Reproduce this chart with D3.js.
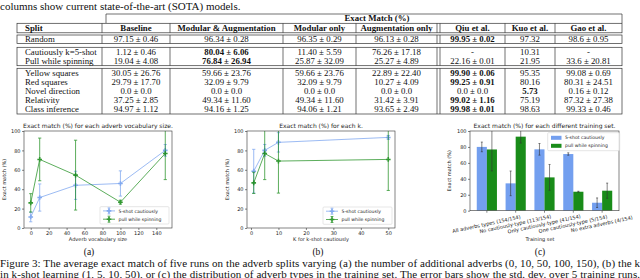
<!DOCTYPE html>
<html lang="en">
<head>
<meta charset="UTF-8">
<title>Adverb splits: table and exact match charts</title>
<script src="https://d3js.org/d3.v7.min.js"></script>
<style>
    body { margin: 0; padding: 0; background: #fff; }
    svg { display: block; }
    .serif { font-family: 'Liberation Serif', 'Times New Roman', serif; fill: #111; }
    .sans { font-family: 'DejaVu Sans', sans-serif; fill: #222; }
    .rule { stroke: #333; stroke-width: 0.7; fill: none; }
</style>
</head>
<body>
<div id="fig"></div>
<script>
// ---- table data ----
const splits = ["Random", "Cautiously k=5-shot", "Pull while spinning", "Yellow squares",
    "Red squares", "Novel direction", "Relativity", "Class inference"];
const columns = ["Baseline", "Modular & Augmentation", "Modular only", "Augmentation only",
    "Qiu et al.", "Kuo et al.", "Gao et al."];
const baseline = ["97.15 ± 0.46", "1.12 ± 0.46", "19.04 ± 4.08", "30.05 ± 26.76",
    "29.79 ± 17.70", "0.0 ± 0.0", "37.25 ± 2.85", "94.97 ± 1.12"];
const modAug = ["96.34 ± 0.28", "80.04 ± 6.06", "76.84 ± 26.94", "59.66 ± 23.76",
    "32.09 ± 9.79", "0.0 ± 0.0", "49.34 ± 11.60", "94.16 ± 1.25"];
const modOnly = ["96.35 ± 0.29", "11.40 ± 5.59", "25.87 ± 32.09", "59.66 ± 23.76",
    "32.09 ± 9.79", "0.0 ± 0.0", "49.34 ± 11.60", "94.06 ± 1.21"];
const augOnly = ["96.13 ± 0.28", "76.26 ± 17.18", "25.27 ± 4.89", "22.89 ± 22.40",
    "10.27 ± 4.09", "0.0 ± 0.0", "31.42 ± 3.91", "93.65 ± 2.49"];
const qiu = ["99.95 ± 0.02", "-", "22.16 ± 0.01", "99.90 ± 0.06",
    "99.25 ± 0.91", "0.0 ± 0.0", "99.02 ± 1.16", "99.98 ± 0.01"];
const kuo = ["97.32", "10.31", "21.95", "95.35", "80.16", "5.73", "75.19", "98.63"];
const gao = ["98.6 ± 0.95", "-", "33.6 ± 20.81", "99.08 ± 0.69",
    "80.31 ± 24.51", "0.16 ± 0.12", "87.32 ± 27.38", "99.33 ± 0.46"];
// bold cells as [row, column]
const boldCells = [[1, 1], [2, 1], [0, 4], [3, 4], [4, 4], [6, 4], [7, 4], [5, 5]];

// ---- chart data ----
const seriesNames = ["5-shot cautiously", "pull while spinning"];
const vocabSizes = [0, 10, 50, 100, 150];
const vocabCautious = [11.4, 31.4, 44.0, 45.9, 80.04];
const vocabCautiousSd = [5, 14, 14.5, 13, 6.06];
const vocabPull = [25.9, 70.7, 54.5, 26.6, 76.84];
const vocabPullSd = [9.5, 22, 36, 2, 26.94];

const kValues = [1, 5, 10, 50];
const kCautious = [58.6, 80.04, 88.3, 93.4];
const kCautiousSd = [22.5, 6.06, 10, 2];
const kPull = [46.5, 76.84, 69.0, 70.7];
const kPullSd = [11, 26.94, 33, 32];

const trainingSets = ["All adverbs types (154/154)", "No cautiously-type (113/154)",
    "Only cautiously-type (41/154)", "One cautiously-type (5/154)", "No extra adverbs (4/154)"];
const setCautious = [80.04, 34.3, 77.0, 71.1, 10.0];
const setCautiousSd = [6.06, 15.5, 7.3, 1.5, 6];
const setPull = [76.84, 92.9, 41.8, 23.8, 25.1];
const setPullSd = [26.94, 8, 16.2, 0.6, 9.5];

const yTicks = [0, 20, 40, 60, 80, 100];

const W = 640, H = 278;
const blue = "#6495ed", green = "#008000";

const svg = d3.select("#fig").append("svg").attr("width", W).attr("height", H);

// ---- text above the table ----
svg.append("text").attr("class", "serif")
    .attr("x", 0).attr("y", 10).style("font-size", "11px")
    .text("columns show current state-of-the-art (SOTA) models.");

// ---- table ----
const colEdges = [17, 102, 170, 283, 356, 437, 505, 555, 622];
const rowY = [39.2, 51.9, 61.1, 72.9, 82, 91.2, 100.3, 109.4];
const groupBox = [[35, 43.5], [47.3, 65.7], [68.3, 114]];
const table = svg.append("g");
const colData = [baseline, modAug, modOnly, augOnly, qiu, kuo, gao];

// spanning header
table.append("path").attr("class", "rule")
    .attr("d", `M106,23 V14 H${colEdges[8]} V23`);
table.append("text").attr("class", "serif")
    .attr("x", 377).attr("y", 21.2).attr("text-anchor", "middle")
    .style("font-size", "8.8px").style("font-weight", "bold")
    .text("Exact Match (%)");

function boxRows(y0, y1) {
    table.append("rect").attr("class", "rule")
        .attr("x", colEdges[0]).attr("y", y0)
        .attr("width", colEdges[8] - colEdges[0]).attr("height", y1 - y0);
    colEdges.slice(1, -1).forEach((x, i) => {
        table.append("line").attr("class", "rule")
            .attr("x1", x).attr("x2", x).attr("y1", y0).attr("y2", y1);
        if (i === 4) {
            table.append("line").attr("class", "rule")
                .attr("x1", x + 3).attr("x2", x + 3).attr("y1", y0).attr("y2", y1);
        }
    });
}
boxRows(23.3, 32.8);
groupBox.forEach(g => boxRows(g[0], g[1]));

const colCenter = i => {
    const a = colEdges[i + 1], b = colEdges[i + 2];
    return i === 4 ? (a + 3 + b) / 2 : (a + b) / 2;
};

table.append("text").attr("class", "serif")
    .attr("x", 25).attr("y", 31).style("font-size", "8.8px").style("font-weight", "bold")
    .text("Split");
table.selectAll(".colhead").data(columns).enter().append("text")
    .attr("class", "serif colhead")
    .attr("x", (d, i) => colCenter(i)).attr("y", 31)
    .attr("text-anchor", "middle")
    .style("font-size", "8.8px").style("font-weight", "bold")
    .text(d => d);

table.selectAll(".rowlab").data(splits).enter().append("text")
    .attr("class", "serif rowlab")
    .attr("x", 25).attr("y", (d, i) => rowY[i] + 3)
    .style("font-size", "8.8px")
    .text(d => d);

colData.forEach((col, ci) => {
    table.selectAll(".c" + ci).data(col).enter().append("text")
        .attr("class", "serif c" + ci)
        .attr("x", colCenter(ci)).attr("y", (d, i) => rowY[i] + 3)
        .attr("text-anchor", "middle")
        .style("font-size", "8.8px")
        .style("font-weight", (d, i) => boldCells.some(b => b[0] === i && b[1] === ci) ? "bold" : "normal")
        .text(d => d);
});

// ---- shared axis helpers ----
function frame(g, x0, x1, y0, y1) {
    g.append("rect").attr("x", x0).attr("y", y0)
        .attr("width", x1 - x0).attr("height", y1 - y0)
        .attr("fill", "none").attr("stroke", "#333").attr("stroke-width", 0.6);
}

function styleAxis(ax) {
    ax.select(".domain").remove();
    ax.selectAll(".tick line").attr("stroke", "#333").attr("stroke-width", 0.6);
    ax.selectAll(".tick text").attr("class", "sans").style("font-size", "5px").attr("fill", "#222");
}

function drawPanel(opts) {
    const g = svg.append("g");
    const { x, y, x0, x1, y0, y1 } = opts;
    const yAx = g.append("g").attr("transform", `translate(${x0},0)`)
        .call(d3.axisLeft(y).tickValues(yTicks).tickSize(2).tickPadding(1.5));
    styleAxis(yAx);
    g.append("text").attr("class", "sans")
        .attr("transform", `translate(${opts.ylabX},${(y0 + y1) / 2}) rotate(-90)`)
        .attr("text-anchor", "middle").style("font-size", "5px")
        .text("Exact match (%)");
    g.append("text").attr("class", "sans")
        .attr("x", (x0 + x1) / 2).attr("y", 128).attr("text-anchor", "middle")
        .style("font-size", "6px").text(opts.title);
    g.append("text").attr("class", "sans")
        .attr("x", opts.xlabX).attr("y", 240.5).attr("text-anchor", "middle")
        .style("font-size", "5px").text(opts.xlabel);
    return g;
}

function errbar(g, cx, cy0, cy1, color, width, cap) {
    g.append("line").attr("x1", cx).attr("x2", cx).attr("y1", cy0).attr("y2", cy1)
        .attr("stroke", color).attr("stroke-width", width);
    [cy0, cy1].forEach(v => g.append("line")
        .attr("x1", cx - cap).attr("x2", cx + cap).attr("y1", v).attr("y2", v)
        .attr("stroke", color).attr("stroke-width", width));
}

const marker = d3.symbol().type(d3.symbolCross).size(12);

function lineSeries(g, x, y, xs, vals, sds, color, clipId) {
    const s = g.append("g").attr("clip-path", `url(#${clipId})`)
        .attr("opacity", 0.8);
    xs.forEach((v, i) => errbar(s, x(v), y(vals[i] + sds[i]), y(vals[i] - sds[i]), color, 0.8, 1.6));
    s.append("path")
        .datum(xs.map((v, i) => [v, vals[i]]))
        .attr("fill", "none").attr("stroke", color).attr("stroke-width", 0.8)
        .attr("d", d3.line().x(d => x(d[0])).y(d => y(d[1])));
    s.selectAll(null).data(xs).enter().append("path")
        .attr("d", marker)
        .attr("transform", (v, i) => `translate(${x(v)},${y(vals[i])})`)
        .attr("fill", color);
}

function lineLegend(g, bx, by) {
    g.append("rect").attr("x", bx).attr("y", by).attr("width", 69).attr("height", 17.3)
        .attr("rx", 1).attr("fill", "#fff").attr("fill-opacity", 0.8)
        .attr("stroke", "#ccc").attr("stroke-width", 0.5);
    [blue, green].forEach((c, i) => {
        const cy = by + 4.2 + i * 8.3;
        const s = g.append("g").attr("opacity", 0.8);
        s.append("line").attr("x1", bx + 3).attr("x2", bx + 15).attr("y1", cy).attr("y2", cy)
            .attr("stroke", c).attr("stroke-width", 0.8);
        errbar(s, bx + 9, cy - 3, cy + 3, c, 0.8, 1.4);
        s.append("path").attr("d", marker).attr("transform", `translate(${bx + 9},${cy})`)
            .attr("fill", c);
        g.append("text").attr("class", "sans").attr("x", bx + 18.5).attr("y", cy + 1.6)
            .style("font-size", "4.6px").text(seriesNames[i]);
    });
}

const defs = svg.append("defs");
function clip(id, x0, x1, y0, y1) {
    defs.append("clipPath").attr("id", id).append("rect")
        .attr("x", x0).attr("y", y0).attr("width", x1 - x0).attr("height", y1 - y0);
}

// ---- panel (a) ----
{
    const x0 = 24, x1 = 172, y0 = 131, y1 = 228;
    const x = d3.scaleLinear().domain([-7.5, 157.5]).range([x0, x1]);
    const y = d3.scaleLinear().domain([0, 100]).range([y1, y0]);
    const g = drawPanel({ x, y, x0, x1, y0, y1, ylabX: 6,
        title: "Exact match (%) for each adverb vocabulary size.",
        xlabel: "Adverb vocabulary size", xlabX: 98 });
    const xAx = g.append("g").attr("transform", `translate(0,${y1})`)
        .call(d3.axisBottom(x).tickValues(d3.range(0, 141, 20)).tickSize(2).tickPadding(1.5));
    styleAxis(xAx);
    clip("clipA", x0, x1, y0, y1);
    lineSeries(g, x, y, vocabSizes, vocabCautious, vocabCautiousSd, blue, "clipA");
    lineSeries(g, x, y, vocabSizes, vocabPull, vocabPullSd, green, "clipA");
    frame(g, x0, x1, y0, y1);
    lineLegend(g, 100, 206.7);
}

// ---- panel (b) ----
{
    const x0 = 247, x1 = 395, y0 = 131, y1 = 228;
    const x = d3.scaleLinear().domain([-1.45, 52.45]).range([x0, x1]);
    const y = d3.scaleLinear().domain([0, 100]).range([y1, y0]);
    const g = drawPanel({ x, y, x0, x1, y0, y1, ylabX: 229,
        title: "Exact match (%) for each k.",
        xlabel: "K for k-shot cautiously", xlabX: 321 });
    const xAx = g.append("g").attr("transform", `translate(0,${y1})`)
        .call(d3.axisBottom(x).tickValues(d3.range(0, 51, 10)).tickSize(2).tickPadding(1.5));
    styleAxis(xAx);
    clip("clipB", x0, x1, y0, y1);
    lineSeries(g, x, y, kValues, kCautious, kCautiousSd, blue, "clipB");
    lineSeries(g, x, y, kValues, kPull, kPullSd, green, "clipB");
    frame(g, x0, x1, y0, y1);
    lineLegend(g, 323, 207);
}

// ---- panel (c) ----
{
    const x0 = 470, x1 = 619, y0 = 131, y1 = 210.7;
    const barW = 0.35;
    const x = d3.scaleLinear().domain([-0.585, trainingSets.length - 1 + 0.585]).range([x0, x1]);
    const y = d3.scaleLinear().domain([0, 100]).range([y1, y0]);
    const g = drawPanel({ x, y, x0, x1, y0, y1, ylabX: 451,
        title: "Exact match (%) for each different training set.",
        xlabel: "Training set", xlabX: 540 });
    clip("clipC", x0, x1, y0, y1);
    const bars = g.append("g").attr("clip-path", "url(#clipC)");
    [[setCautious, blue, -barW], [setPull, green, 0]].forEach(([vals, c, off]) => {
        bars.selectAll(null).data(vals).enter().append("rect")
            .attr("x", (d, i) => x(i + off))
            .attr("width", x(barW) - x(0))
            .attr("y", d => y(d))
            .attr("height", d => y(0) - y(d))
            .attr("fill", c).attr("fill-opacity", 0.9);
    });
    [[setCautious, setCautiousSd, -barW / 2], [setPull, setPullSd, barW / 2]].forEach(([vals, sds, off]) => {
        vals.forEach((v, i) => errbar(bars, x(i + off), y(v + sds[i]), y(v - sds[i]), "#333", 0.6, 1));
    });
    // x ticks with rotated labels
    const xt = g.append("g");
    trainingSets.forEach((name, i) => {
        xt.append("line").attr("x1", x(i)).attr("x2", x(i)).attr("y1", y1).attr("y2", y1 + 2)
            .attr("stroke", "#333").attr("stroke-width", 0.6);
        xt.append("text").attr("class", "sans")
            .attr("transform", `translate(${x(i)},${y1 + 15}) rotate(-12)`)
            .attr("text-anchor", "middle").style("font-size", "5px")
            .text(name);
    });
    frame(g, x0, x1, y0, y1);
    // legend
    const lg = g.append("g");
    lg.append("rect").attr("x", 547.7).attr("y", 132.7).attr("width", 72).attr("height", 18)
        .attr("rx", 1).attr("fill", "#fff").attr("fill-opacity", 0.8)
        .attr("stroke", "#ccc").attr("stroke-width", 0.5);
    [blue, green].forEach((c, i) => {
        const cy = 137.8 + i * 8;
        lg.append("rect").attr("x", 551).attr("y", cy - 2).attr("width", 10.5).attr("height", 4)
            .attr("fill", c).attr("fill-opacity", 0.9);
        lg.append("text").attr("class", "sans").attr("x", 565).attr("y", cy + 1.6)
            .style("font-size", "4.6px").text(seriesNames[i]);
    });
}

// ---- sub-captions and figure caption ----
const subLabels = ["(a)", "(b)", "(c)"];
const subX = [89, 318, 540];
svg.selectAll(".sub").data(subLabels).enter().append("text")
    .attr("class", "serif sub")
    .attr("x", (d, i) => subX[i]).attr("y", 255)
    .attr("text-anchor", "middle").style("font-size", "9.5px")
    .text(d => d);

svg.append("text").attr("class", "serif")
    .attr("x", 0).attr("y", 266.5).style("font-size", "11px")
    .attr("textLength", 640).attr("lengthAdjust", "spacing")
    .text("Figure 3: The average exact match of five runs on the adverb splits varying (a) the number of additional adverbs (0, 10, 50, 100, 150), (b) the k");
svg.append("text").attr("class", "serif")
    .attr("x", 0).attr("y", 277.5).style("font-size", "11px")
    .attr("textLength", 640).attr("lengthAdjust", "spacing")
    .text("in k-shot learning (1, 5, 10, 50), or (c) the distribution of adverb types in the training set. The error bars show the std. dev. over 5 training runs.");
</script>
</body>
</html>
